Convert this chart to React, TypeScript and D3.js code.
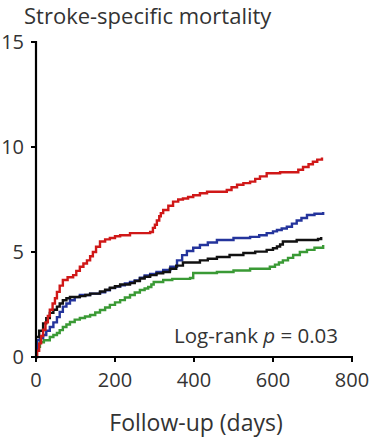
import React from 'react';
import * as d3 from 'd3';

// Cumulative stroke-specific mortality (%) by follow-up day, per group
const redDays = [0, 3, 8, 13, 18, 24, 30, 35, 42, 48, 53, 60, 68, 80, 94, 102, 111, 120, 129, 137, 144, 152, 162, 175, 187, 200, 213, 238, 289, 296, 301, 306, 312, 316, 322, 335, 347, 360, 372, 385, 398, 415, 433, 483, 495, 509, 525, 542, 555, 567, 584, 618, 651, 664, 676, 690, 701, 712, 724];
const redVals = [0, 0.3, 0.65, 1.0, 1.3, 1.65, 1.95, 2.25, 2.55, 2.8, 3.1, 3.4, 3.67, 3.8, 3.9, 4.1, 4.3, 4.45, 4.6, 4.8, 5.0, 5.25, 5.5, 5.6, 5.67, 5.75, 5.8, 5.9, 5.95, 6.15, 6.3, 6.5, 6.7, 6.85, 7.0, 7.2, 7.4, 7.5, 7.55, 7.62, 7.7, 7.8, 7.87, 7.95, 8.08, 8.2, 8.28, 8.35, 8.48, 8.6, 8.75, 8.8, 8.8, 8.92, 9.05, 9.18, 9.3, 9.4, 9.5];

const blueDays = [0, 2, 10, 18, 26, 35, 44, 53, 60, 68, 77, 86, 98, 111, 137, 162, 175, 187, 200, 213, 225, 238, 250, 263, 275, 289, 305, 322, 340, 357, 370, 382, 398, 415, 435, 458, 500, 542, 565, 584, 600, 610, 622, 635, 648, 660, 672, 686, 705, 727];
const blueVals = [0, 0.8, 0.9, 1.05, 1.25, 1.43, 1.65, 1.9, 2.15, 2.4, 2.55, 2.7, 2.85, 2.95, 3.02, 3.08, 3.18, 3.28, 3.35, 3.42, 3.5, 3.57, 3.65, 3.78, 3.88, 3.95, 4.05, 4.14, 4.3, 4.6, 4.85, 5.05, 5.2, 5.33, 5.45, 5.57, 5.67, 5.72, 5.8, 5.9, 5.98, 6.05, 6.12, 6.2, 6.35, 6.5, 6.62, 6.76, 6.82, 6.9];

const blackDays = [0, 8, 18, 26, 35, 44, 53, 60, 68, 77, 86, 111, 125, 137, 162, 175, 187, 200, 213, 238, 250, 263, 275, 289, 305, 322, 339, 355, 372, 415, 435, 458, 490, 525, 555, 584, 600, 610, 618, 625, 660, 714, 722];
const blackVals = [0.95, 1.25, 1.6, 1.85, 2.1, 2.25, 2.4, 2.55, 2.7, 2.8, 2.86, 2.9, 2.95, 3.02, 3.12, 3.2, 3.3, 3.37, 3.45, 3.52, 3.62, 3.74, 3.82, 3.9, 3.98, 4.05, 4.2, 4.35, 4.5, 4.6, 4.68, 4.76, 4.86, 4.95, 5.02, 5.1, 5.18, 5.26, 5.36, 5.5, 5.57, 5.62, 5.72];

const greenDays = [0, 2, 10, 20, 35, 44, 53, 60, 68, 77, 86, 98, 111, 124, 137, 150, 162, 175, 187, 200, 213, 225, 238, 250, 263, 275, 284, 292, 298, 322, 345, 390, 398, 458, 500, 542, 592, 605, 615, 625, 638, 651, 668, 686, 705, 727];
const greenVals = [0, 0.48, 0.7, 0.8, 0.95, 1.05, 1.14, 1.28, 1.43, 1.55, 1.67, 1.78, 1.86, 1.93, 2.0, 2.12, 2.24, 2.36, 2.48, 2.6, 2.71, 2.83, 2.95, 3.07, 3.19, 3.26, 3.33, 3.45, 3.57, 3.67, 3.72, 3.76, 4.0, 4.05, 4.12, 4.2, 4.3, 4.4, 4.5, 4.6, 4.72, 4.86, 5.0, 5.1, 5.2, 5.33];

const xTicks = [0, 200, 400, 600, 800];
const yTicks = [0, 5, 10, 15];

const series = [
  { name: 'green', days: greenDays, vals: greenVals, color: '#3a9a35' },
  { name: 'blue', days: blueDays, vals: blueVals, color: '#24349c' },
  { name: 'black', days: blackDays, vals: blackVals, color: '#111111' },
  { name: 'red', days: redDays, vals: redVals, color: '#d01818' },
];

const App: React.FC = () => {
  const width = 372;
  const height = 440;
  const x = d3.scaleLinear().domain([0, 800]).range([36, 352]);
  const y = d3.scaleLinear().domain([0, 15]).range([357, 42]);
  const font = '"Open Sans", "Noto Sans", sans-serif';
  const textColor = '#333';

  const line = d3.line<[number, number]>()
    .x(d => x(d[0]))
    .y(d => y(d[1]))
    .curve(d3.curveStepAfter);

  return (
    <div style={{ position: 'absolute', left: 0, top: 0 }}>
      <svg width={width} height={height} style={{ display: 'block', background: '#fff' }}>
        <text x={24} y={24} fontFamily={font} fontSize={22} fill={textColor}>
          Stroke-specific mortality
        </text>

        {/* curves */}
        {series.map(s => (
          <path
            key={s.name}
            d={line(s.days.map((d, i) => [d, s.vals[i]] as [number, number])) || ''}
            fill="none"
            stroke={s.color}
            strokeWidth={2.4}
          />
        ))}

        {/* y axis */}
        <line x1={x(0)} x2={x(0)} y1={y(15) - 1} y2={y(0)} stroke="#000" strokeWidth={2.2} />
        {yTicks.map(t => (
          <g key={t}>
            <line x1={x(0) - 5} x2={x(0)} y1={y(t)} y2={y(t)} stroke="#000" strokeWidth={2} />
            <text x={x(0) - 12} y={y(t)} dy="0.36em" textAnchor="end" fontFamily={font} fontSize={20} fill={textColor}>
              {t}
            </text>
          </g>
        ))}

        {/* x axis */}
        <line x1={x(0) - 1} x2={x(800) + 1} y1={y(0)} y2={y(0)} stroke="#000" strokeWidth={2.2} />
        {xTicks.map(t => (
          <g key={t}>
            <line x1={x(t)} x2={x(t)} y1={y(0)} y2={y(0) + 5} stroke="#000" strokeWidth={2} />
            <text x={x(t)} y={y(0) + 30} textAnchor="middle" fontFamily={font} fontSize={20} fill={textColor}>
              {t}
            </text>
          </g>
        ))}

        <text x={196} y={431} textAnchor="middle" fontFamily={font} fontSize={23} fill={textColor}>
          Follow-up (days)
        </text>

        <text x={338} y={343} textAnchor="end" fontFamily={font} fontSize={20.5} fill={textColor}>
          Log-rank <tspan fontStyle="italic">p</tspan> = 0.03
        </text>
      </svg>
    </div>
  );
};

export default App;
